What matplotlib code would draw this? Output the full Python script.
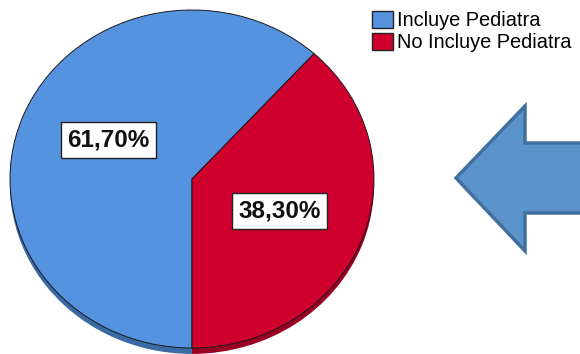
import matplotlib
matplotlib.use('Agg')
import matplotlib.pyplot as plt
from matplotlib.patches import Patch, Polygon

plt.rcParams['font.family'] = ['Liberation Sans', 'DejaVu Sans']

# datos
categorias = ['Incluye Pediatra', 'No Incluye Pediatra']
porcentajes = [61.7, 38.3]
colores = ['#5592DF', '#D0002E']
colores_lado = ['#3B6BA5', '#990022']

fig = plt.figure(figsize=(5.8, 3.54), dpi=100)

# pastel (un poco achatado, con borde inferior oscuro para dar profundidad)
ax = fig.add_axes([10 / 580, 0, 364 / 580, 344 / 354])
ax.pie(porcentajes, colors=colores_lado, startangle=270, counterclock=False,
       center=(0, -0.035), wedgeprops=dict(linewidth=0))
wedges, textos, autotextos = ax.pie(
    porcentajes, colors=colores, startangle=270, counterclock=False,
    autopct=lambda p: f'{p:.2f}%'.replace('.', ','), pctdistance=0.52,
    wedgeprops=dict(edgecolor='#1a1a1a', linewidth=0.7),
    textprops=dict(fontsize=17.5, fontweight='bold', color='#111111'))
# posiciones de etiquetas como en el original
autotextos[0].set_position((-0.46, 0.23))
autotextos[1].set_position((0.48, -0.19))
for t in autotextos:
    t.set_bbox(dict(boxstyle='square,pad=0.27', facecolor='white',
                    edgecolor='#222222', linewidth=1))
ax.set_xlim(-1.0, 1.0)
ax.set_ylim(-1.0355, 1.0)
ax.set_aspect('auto')
ax.axis('off')

# leyenda
handles = [Patch(facecolor=c, edgecolor='#222222', linewidth=1) for c in colores]
fig.legend(handles, categorias, loc='upper left', bbox_to_anchor=(358 / 580, 1 + 3 / 354),
           frameon=False, fontsize=14.4, handlelength=1.05, handleheight=0.95,
           handletextpad=0.22, labelspacing=0.1, borderpad=0.2)

# flecha
ov = fig.add_axes([0, 0, 1, 1], zorder=-1)
ov.set_xlim(0, 580)
ov.set_ylim(354, 0)
ov.axis('off')
flecha = [(456, 178), (525, 106), (525, 143), (600, 143), (600, 213),
          (525, 213), (525, 251)]
ov.add_patch(Polygon(flecha, closed=True, facecolor='#5B94CA', edgecolor='#41709E',
                     linewidth=2.5, joinstyle='miter'))

fig.savefig('out.png', dpi=100)
